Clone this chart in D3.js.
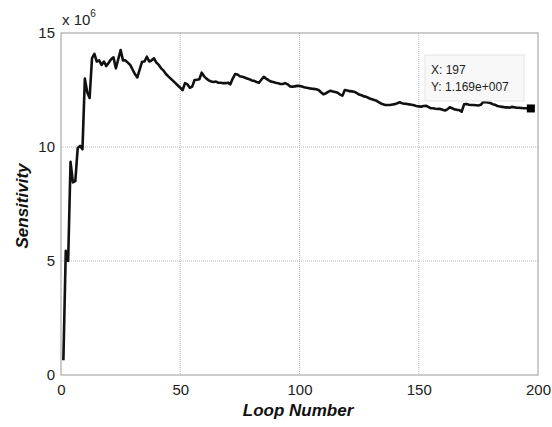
<!DOCTYPE html>
<html><head><meta charset="utf-8">
<script src="https://cdn.jsdelivr.net/npm/d3@7"></script>
<style>body{margin:0;background:#fff}svg{display:block}text{font-family:"Liberation Sans",Arial,sans-serif}</style>
</head><body>
<svg id="c" width="552" height="427"></svg>
<script>
// Sensitivity (x 10^6) per loop, loops 1..197
const sensitivity = [
0.65,5.45,5.0,9.35,8.45,8.5,9.95,10.05,9.9,13.0,
12.4,12.15,13.9,14.08,13.75,13.8,13.6,13.75,13.55,13.7,
13.85,13.93,13.45,13.85,14.25,13.8,13.8,13.7,13.6,13.4,
13.2,13.05,13.4,13.74,13.75,13.96,13.75,13.8,13.89,13.7,
13.6,13.45,13.35,13.2,13.1,13.0,12.9,12.8,12.7,12.6,
12.5,12.8,12.75,12.6,12.65,12.94,12.95,12.97,13.26,13.1,
13.0,12.92,12.87,12.85,12.87,12.82,12.82,12.8,12.8,12.82,
12.75,13.0,13.2,13.18,13.1,13.08,13.05,13.0,12.97,12.92,
12.9,12.85,12.82,12.95,13.08,13.0,12.93,12.87,12.85,12.82,
12.8,12.76,12.76,12.8,12.75,12.66,12.64,12.66,12.68,12.68,
12.65,12.62,12.6,12.58,12.56,12.55,12.53,12.5,12.4,12.31,
12.35,12.42,12.47,12.43,12.41,12.38,12.3,12.25,12.5,12.48,
12.45,12.44,12.42,12.37,12.3,12.27,12.22,12.2,12.15,12.1,
12.07,12.04,11.98,11.92,11.87,11.84,11.84,11.84,11.86,11.88,
11.92,11.96,11.92,11.9,11.89,11.87,11.85,11.83,11.8,11.78,
11.77,11.8,11.81,11.76,11.7,11.7,11.68,11.67,11.67,11.63,
11.6,11.65,11.74,11.7,11.65,11.63,11.62,11.55,11.87,11.89,
11.85,11.84,11.84,11.83,11.82,11.85,11.97,11.96,11.95,11.93,
11.88,11.85,11.8,11.78,11.76,11.74,11.74,11.72,11.76,11.74,
11.72,11.72,11.71,11.7,11.7,11.69,11.69
];
const loops = sensitivity.map((d,i)=>i+1);
const xTicks = [0,50,100,150,200];
const yTicks = [0,5,10,15];
const tipX = 197, tipYLabel = "1.169e+007";

const svg = d3.select("#c");
const L=61,R=538,T=33,B=375;
const x = d3.scaleLinear().domain([0,200]).range([L,R]);
const y = d3.scaleLinear().domain([0,15]).range([B,T]);

// grid
const g = svg.append("g");
g.selectAll(".gx").data(xTicks.slice(1,-1)).join("line")
 .attr("x1",d=>x(d)).attr("x2",d=>x(d)).attr("y1",T).attr("y2",B)
 .attr("stroke","#bbb").attr("stroke-width",1).attr("stroke-dasharray","1,1");
g.selectAll(".gy").data(yTicks.slice(1,-1)).join("line")
 .attr("y1",d=>y(d)).attr("y2",d=>y(d)).attr("x1",L).attr("x2",R)
 .attr("stroke","#bbb").attr("stroke-width",1).attr("stroke-dasharray","1,1");

// box
svg.append("rect").attr("x",L).attr("y",T).attr("width",R-L).attr("height",B-T)
 .attr("fill","none").attr("stroke","#999").attr("stroke-width",1);

// axes labels via d3 axes
const xa = svg.append("g").attr("transform",`translate(0,${B})`)
 .call(d3.axisBottom(x).tickValues(xTicks).tickSize(0).tickPadding(9));
const ya = svg.append("g").attr("transform",`translate(${L},0)`)
 .call(d3.axisLeft(y).tickValues(yTicks).tickSize(0).tickPadding(6));
[xa,ya].forEach(a=>{a.select(".domain").remove();
 a.selectAll("text").attr("font-size",15).attr("fill","#222").attr("font-family","Liberation Sans, Arial");});

// multiplier
const m = svg.append("text").attr("x",62).attr("y",25).attr("font-size",15).attr("fill","#222");
m.append("tspan").text("x 10");
m.append("tspan").attr("font-size",10).attr("dy",-8).text("6");

// line
svg.append("path").datum(sensitivity)
 .attr("d",d3.line().x((d,i)=>x(loops[i])).y(d=>y(d)))
 .attr("fill","none").attr("stroke","#111").attr("stroke-width",2.6).attr("stroke-linejoin","round");

// datatip
const tv = sensitivity[tipX-1];
svg.append("rect").attr("x",x(tipX)-8/2).attr("y",y(tv)-4).attr("width",8).attr("height",8).attr("fill","#000");
svg.append("rect").attr("x",425).attr("y",55).attr("width",99).attr("height",46)
 .attr("fill","#f8f8f8").attr("stroke","#e4e4e4").attr("stroke-width",1);
svg.append("text").attr("x",431).attr("y",74).attr("font-size",12).attr("fill","#222").text("X: "+tipX);
svg.append("text").attr("x",431).attr("y",91).attr("font-size",12).attr("fill","#222").text("Y: "+tipYLabel);

// axis titles
svg.append("text").attr("x",298).attr("y",416).attr("text-anchor","middle")
 .attr("font-size",17).attr("font-weight","bold").attr("font-style","italic").attr("fill","#111").text("Loop Number");
svg.append("text").attr("transform","translate(28,206) rotate(-90)").attr("text-anchor","middle")
 .attr("font-size",17).attr("font-weight","bold").attr("font-style","italic").attr("fill","#111").text("Sensitivity");
</script>
</body></html>
